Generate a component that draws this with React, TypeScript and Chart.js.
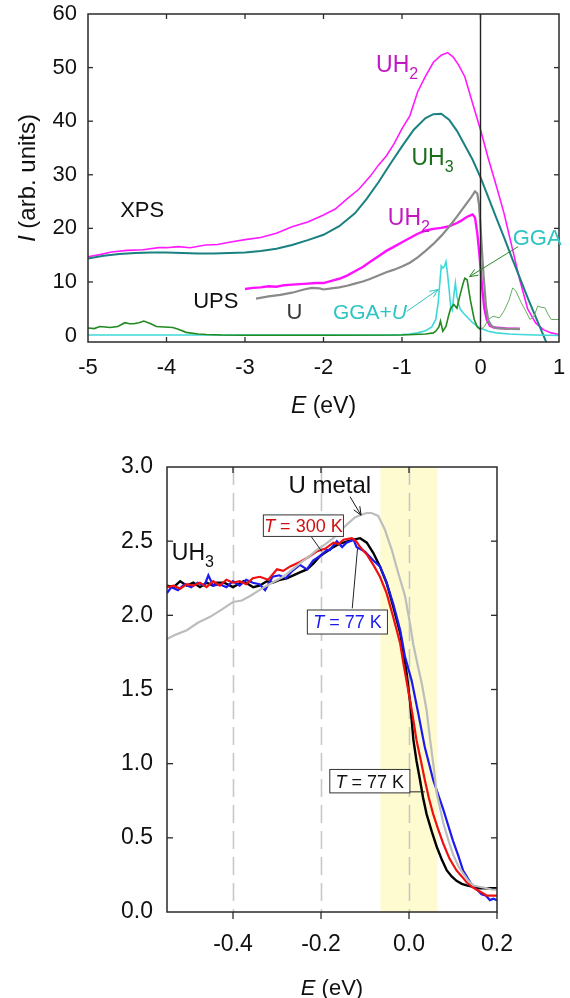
import React, { useEffect, useRef } from 'react';
import { Chart, registerables } from 'chart.js';

Chart.register(...registerables);

const FONT = '"Liberation Sans", Arial, Helvetica, sans-serif';

// ---------------- Top panel data (E in eV, I in arb. units) ----------------
const topXTicks = [-5, -4, -3, -2, -1, 0, 1];
const topYTicks = [0, 10, 20, 30, 40, 50, 60];

const uh2XpsE = [-5, -4.85, -4.7, -4.5, -4.3, -4.1, -4.0, -3.85, -3.7, -3.5, -3.35, -3.2, -3.0, -2.8, -2.6, -2.4, -2.2, -2.0, -1.85, -1.7, -1.55, -1.4, -1.3, -1.2, -1.1, -1.0, -0.9, -0.8, -0.7, -0.6, -0.5, -0.42, -0.35, -0.28, -0.2, -0.1, 0, 0.1, 0.2, 0.3, 0.4, 0.5, 0.6, 0.7, 0.8, 0.9, 1.0];
const uh2XpsI = [14.7, 15.1, 15.6, 15.9, 16.0, 16.4, 16.4, 16.6, 16.4, 16.9, 17.0, 17.4, 17.9, 18.3, 19.1, 20.3, 21.2, 22.5, 23.6, 25.5, 27.3, 29.8, 31.8, 33.5, 35.8, 38.6, 41.0, 45.5, 48.4, 51.0, 52.3, 52.8, 52.0, 50.5, 48.3, 43.3, 38.4, 33.0, 28.0, 22.8, 16.6, 10.4, 5.0, 2.4, 1.1, 0.5, 0.2];

const uh3XpsE = [-5, -4.8, -4.6, -4.4, -4.2, -4.0, -3.8, -3.6, -3.4, -3.2, -3.0, -2.8, -2.6, -2.4, -2.2, -2.0, -1.8, -1.6, -1.45, -1.3, -1.15, -1.0, -0.85, -0.7, -0.6, -0.5, -0.4, -0.3, -0.2, -0.1, 0, 0.1, 0.2, 0.3, 0.4, 0.5, 0.6, 0.7, 0.8, 0.9];
const uh3XpsI = [14.4, 14.9, 15.2, 15.4, 15.5, 15.5, 15.4, 15.3, 15.3, 15.4, 15.5, 15.8, 16.2, 16.9, 17.8, 18.8, 20.4, 22.8, 25.5, 28.6, 32.0, 35.3, 38.4, 40.6, 41.3, 41.4, 40.3, 38.2, 35.5, 32.8, 29.5, 25.8, 22.0, 18.3, 14.5, 10.8, 7.1, 3.6, 0.1, -3.5];

const uh2UpsE = [-3.0, -2.9, -2.8, -2.7, -2.6, -2.5, -2.4, -2.3, -2.2, -2.1, -2.0, -1.9, -1.8, -1.7, -1.6, -1.5, -1.4, -1.3, -1.2, -1.1, -1.0, -0.9, -0.8, -0.7, -0.6, -0.5, -0.4, -0.3, -0.25, -0.2, -0.15, -0.1, -0.07, -0.04, -0.01, 0.02, 0.05, 0.08, 0.12, 0.17, 0.25, 0.35, 0.5];
const uh2UpsI = [8.7, 8.9, 9.0, 9.2, 9.1, 9.4, 9.5, 9.6, 9.7, 9.8, 9.8, 10.2, 10.6, 11.2, 12.0, 12.8, 13.8, 14.8, 15.8, 16.6, 17.4, 18.2, 19.0, 19.6, 19.9, 20.1, 20.4, 21.0, 21.4, 21.9, 22.3, 22.6, 22.0, 19.0, 14.5, 9.0, 5.0, 3.0, 1.8, 1.5, 1.4, 1.3, 1.3];

const uUpsE = [-2.86, -2.7, -2.55, -2.4, -2.25, -2.15, -2.05, -2.0, -1.9, -1.8, -1.7, -1.6, -1.5, -1.4, -1.3, -1.2, -1.1, -1.0, -0.9, -0.8, -0.7, -0.6, -0.5, -0.4, -0.3, -0.2, -0.12, -0.07, -0.04, -0.02, 0.0, 0.02, 0.04, 0.07, 0.1, 0.14, 0.2, 0.3, 0.5];
const uUpsI = [6.9, 7.3, 7.6, 8.0, 8.6, 8.9, 8.8, 8.6, 8.8, 9.0, 9.3, 9.7, 10.1, 10.6, 11.2, 11.8, 12.3, 12.9, 13.6, 14.6, 15.8, 17.1, 18.6, 20.3, 22.2, 24.2, 25.8, 26.9, 26.5, 24.5, 20.5, 15.5, 11.0, 5.5, 2.8, 1.8, 1.4, 1.3, 1.2];

const ggaUE = [-5, -4, -3, -2, -1.2, -1.0, -0.9, -0.8, -0.7, -0.62, -0.57, -0.54, -0.52, -0.5, -0.48, -0.46, -0.44, -0.42, -0.4, -0.38, -0.36, -0.34, -0.32, -0.3, -0.28, -0.26, -0.22, -0.18, -0.1, -0.05, 0, 0.05, 0.1, 0.2, 0.37, 0.5, 0.7, 1.0];
const ggaUI = [0.1, 0.1, 0.1, 0.1, 0.1, 0.2, 0.3, 0.5, 0.9, 1.6, 3.0, 6.0, 9.5, 13.0, 12.6, 12.9, 13.8, 11.5, 8.6, 5.5, 4.8, 7.5, 9.8, 7.3, 6.0, 5.0, 4.2, 3.6, 2.4, 1.8, 1.4, 1.1, 0.8, 0.5, 0.3, 0.2, 0.1, 0.0];

const ggaOccE = [-5, -4.92, -4.85, -4.78, -4.72, -4.62, -4.53, -4.47, -4.42, -4.35, -4.29, -4.2, -4.13, -4.03, -3.92, -3.85, -3.75, -3.6, -3.49, -3.3, -3.0, -2.0, -1.0, -0.7, -0.6, -0.57, -0.53, -0.51, -0.48, -0.44, -0.41, -0.38, -0.34, -0.3, -0.26, -0.22, -0.2, -0.17, -0.13, -0.08, -0.04, 0];
const ggaOccI = [1.4, 1.3, 1.7, 1.6, 1.5, 1.7, 2.4, 2.2, 2.2, 2.4, 2.7, 2.2, 1.7, 1.6, 1.5, 1.2, 0.6, 0.3, 0.2, 0.1, 0.05, 0.05, 0.1, 0.3, 0.5, 0.8, 1.6, 2.7, 0.8, 1.7, 3.5, 5.1, 5.8, 5.1, 7.6, 9.8, 10.7, 10.4, 6.7, 3.0, 1.6, 1.1];

const ggaUnoccE = [0, 0.05, 0.1, 0.16, 0.24, 0.3, 0.36, 0.41, 0.45, 0.52, 0.58, 0.63, 0.68, 0.73, 0.77, 0.82, 0.86, 0.9, 0.95, 1.0];
const ggaUnoccI = [1.1, 1.7, 3.0, 3.6, 3.3, 4.6, 6.5, 8.9, 8.3, 6.1, 4.5, 3.0, 3.6, 5.5, 5.3, 5.2, 4.0, 3.0, 3.0, 3.0];

// ---------------- Bottom panel data ----------------
const botXTicks = [-0.4, -0.2, 0.0, 0.2];
const botYTicks = [0, 0.5, 1.0, 1.5, 2.0, 2.5, 3.0];
const dashedAt = [-0.4, -0.2, 0.0];
const bandFrom = -0.065;
const bandTo = 0.065;

const uMetalE = [-0.55, -0.53, -0.505, -0.48, -0.452, -0.425, -0.4, -0.38, -0.361, -0.34, -0.323, -0.305, -0.286, -0.265, -0.248, -0.23, -0.21, -0.19, -0.172, -0.155, -0.142, -0.123, -0.107, -0.096, -0.085, -0.07, -0.055, -0.039, -0.024, -0.009, 0.002, 0.01, 0.02, 0.029, 0.04, 0.048, 0.056, 0.063, 0.078, 0.09, 0.1, 0.112, 0.123, 0.135, 0.146, 0.16, 0.177, 0.19, 0.2];
const uMetalI = [1.84, 1.87, 1.9, 1.95, 1.99, 2.04, 2.09, 2.1, 2.13, 2.17, 2.2, 2.23, 2.26, 2.31, 2.35, 2.39, 2.44, 2.48, 2.52, 2.57, 2.61, 2.66, 2.68, 2.69, 2.69, 2.67, 2.58, 2.44, 2.28, 2.13, 1.95, 1.8, 1.66, 1.54, 1.36, 1.16, 0.98, 0.8, 0.6, 0.48, 0.39, 0.31, 0.26, 0.21, 0.18, 0.17, 0.16, 0.15, 0.15];

const t300E = [-0.55, -0.535, -0.52, -0.505, -0.49, -0.475, -0.46, -0.445, -0.43, -0.415, -0.4, -0.385, -0.37, -0.355, -0.339, -0.32, -0.3, -0.286, -0.27, -0.248, -0.23, -0.21, -0.19, -0.172, -0.16, -0.149, -0.13, -0.12, -0.111, -0.096, -0.081, -0.066, -0.051, -0.036, -0.02, -0.013, -0.002, 0.008, 0.017, 0.027, 0.036, 0.045, 0.055, 0.066, 0.078, 0.092, 0.108, 0.12, 0.131, 0.143, 0.154, 0.166, 0.177, 0.19, 0.2];
const t300I = [2.19, 2.2, 2.18, 2.21, 2.2, 2.22, 2.19, 2.23, 2.2, 2.24, 2.22, 2.23, 2.21, 2.25, 2.26, 2.24, 2.31, 2.3, 2.33, 2.36, 2.39, 2.43, 2.45, 2.49, 2.48, 2.51, 2.52, 2.5, 2.46, 2.41, 2.34, 2.26, 2.15, 1.99, 1.81, 1.68, 1.5, 1.33, 1.16, 1.02, 0.89, 0.77, 0.66, 0.56, 0.46, 0.36, 0.28, 0.24, 0.2, 0.17, 0.15, 0.13, 0.11, 0.11, 0.11];

const t77E = [-0.55, -0.54, -0.525, -0.51, -0.495, -0.48, -0.465, -0.456, -0.445, -0.43, -0.415, -0.4, -0.385, -0.37, -0.355, -0.34, -0.327, -0.31, -0.295, -0.28, -0.265, -0.248, -0.232, -0.218, -0.202, -0.187, -0.18, -0.164, -0.152, -0.142, -0.126, -0.119, -0.1, -0.081, -0.066, -0.051, -0.036, -0.02, -0.009, 0.006, 0.021, 0.036, 0.055, 0.078, 0.1, 0.112, 0.123, 0.135, 0.146, 0.155, 0.165, 0.175, 0.184, 0.192, 0.2];
const t77I = [2.15, 2.19, 2.17, 2.21, 2.19, 2.22, 2.2, 2.27, 2.2, 2.21, 2.19, 2.23, 2.2, 2.24, 2.22, 2.21, 2.17, 2.26, 2.27, 2.25, 2.3, 2.34, 2.31, 2.37, 2.4, 2.44, 2.44, 2.5, 2.46, 2.49, 2.51, 2.46, 2.43, 2.37, 2.33, 2.22, 2.08, 1.9, 1.72, 1.56, 1.34, 1.11, 0.89, 0.69, 0.48, 0.38, 0.28, 0.22, 0.17, 0.15, 0.12, 0.11, 0.08, 0.09, 0.08];

const t77bE = [-0.55, -0.535, -0.52, -0.505, -0.49, -0.475, -0.46, -0.445, -0.437, -0.42, -0.4, -0.388, -0.376, -0.365, -0.354, -0.34, -0.323, -0.31, -0.293, -0.278, -0.263, -0.248, -0.232, -0.217, -0.202, -0.187, -0.172, -0.16, -0.149, -0.138, -0.126, -0.111, -0.096, -0.081, -0.066, -0.051, -0.036, -0.02, -0.009, -0.005, 0.003, 0.01, 0.017, 0.025, 0.032, 0.04, 0.052, 0.063, 0.075, 0.086, 0.097, 0.108, 0.12, 0.131, 0.146, 0.161, 0.18, 0.2];
const t77bI = [2.2, 2.19, 2.23, 2.2, 2.22, 2.19, 2.22, 2.2, 2.22, 2.22, 2.19, 2.21, 2.23, 2.21, 2.19, 2.2, 2.23, 2.22, 2.24, 2.25, 2.27, 2.29, 2.31, 2.35, 2.4, 2.43, 2.46, 2.48, 2.49, 2.5, 2.51, 2.52, 2.49, 2.42, 2.33, 2.22, 2.06, 1.88, 1.68, 1.6, 1.4, 1.16, 1.02, 0.89, 0.77, 0.66, 0.54, 0.44, 0.35, 0.28, 0.24, 0.21, 0.19, 0.18, 0.17, 0.16, 0.16, 0.16];

// ---------------- helpers ----------------
type Part = { t: string; italic?: boolean; sub?: boolean };

const pts = (xs: number[], ys: number[]) => xs.map((x, i) => ({ x, y: ys[i] }));

const line = (xs: number[], ys: number[], color: string, width: number) => ({
  data: pts(xs, ys),
  borderColor: color,
  backgroundColor: color,
  borderWidth: width,
  pointRadius: 0,
  tension: 0,
  fill: false,
});

function richWidth(ctx: CanvasRenderingContext2D, parts: Part[], size: number) {
  let w = 0;
  parts.forEach((p) => {
    ctx.font = `${p.italic ? 'italic ' : ''}${p.sub ? Math.round(size * 0.7) : size}px ${FONT}`;
    w += ctx.measureText(p.t).width;
  });
  return w;
}

function drawRich(ctx: CanvasRenderingContext2D, x: number, y: number, parts: Part[], size: number, color: string, align: 'left' | 'center' = 'left') {
  ctx.save();
  ctx.fillStyle = color;
  ctx.textBaseline = 'alphabetic';
  ctx.textAlign = 'left';
  let cx = align === 'center' ? x - richWidth(ctx, parts, size) / 2 : x;
  parts.forEach((p) => {
    const s = p.sub ? Math.round(size * 0.7) : size;
    ctx.font = `${p.italic ? 'italic ' : ''}${s}px ${FONT}`;
    ctx.fillText(p.t, cx, p.sub ? y + size * 0.3 : y);
    cx += ctx.measureText(p.t).width;
  });
  ctx.restore();
}

type TickSpec = { side: 'left' | 'right' | 'top' | 'bottom'; values: number[]; len: number; out?: boolean };
type TextAnn = { x: number; y: number; parts: Part[]; size: number; color: string };
type ArrowAnn = { x1: number; y1: number; x2: number; y2: number; color: string; head: boolean };
type BoxAnn = { x0: number; x1: number; y0: number; y1: number; parts: Part[]; size: number; color: string };
type Deco = {
  ticks: TickSpec[];
  solidV?: number[];
  dashedV?: number[];
  band?: [number, number];
  texts: TextAnn[];
  arrows: ArrowAnn[];
  boxes?: BoxAnn[];
  xTitle: { dy: number; size: number };
  yTitle?: { x: number; size: number };
};

function decoPlugin(d: Deco) {
  return {
    id: 'deco',
    beforeDatasetsDraw(chart: any) {
      const { ctx, chartArea: a, scales } = chart;
      const xs = scales.x;
      ctx.save();
      if (d.band) {
        const x0 = xs.getPixelForValue(d.band[0]);
        const x1 = xs.getPixelForValue(d.band[1]);
        ctx.fillStyle = '#fdfbcf';
        ctx.fillRect(x0, a.top, x1 - x0, a.bottom - a.top);
      }
      (d.dashedV || []).forEach((v) => {
        const px = Math.round(xs.getPixelForValue(v)) + 0.5;
        ctx.strokeStyle = '#c8c8c8';
        ctx.lineWidth = 1.6;
        ctx.setLineDash([18, 8]);
        ctx.beginPath();
        ctx.moveTo(px, a.top);
        ctx.lineTo(px, a.bottom);
        ctx.stroke();
      });
      ctx.restore();
    },
    afterDatasetsDraw(chart: any) {
      const { ctx, chartArea: a, scales } = chart;
      const xs = scales.x;
      const ys = scales.y;
      const X = (v: number) => xs.getPixelForValue(v);
      const Y = (v: number) => ys.getPixelForValue(v);
      ctx.save();
      (d.solidV || []).forEach((v) => {
        ctx.strokeStyle = '#222';
        ctx.lineWidth = 1.4;
        ctx.beginPath();
        ctx.moveTo(X(v), a.top);
        ctx.lineTo(X(v), a.bottom);
        ctx.stroke();
      });
      // frame
      ctx.strokeStyle = '#2a2a2a';
      ctx.lineWidth = 1.5;
      ctx.strokeRect(a.left, a.top, a.right - a.left, a.bottom - a.top);
      // ticks
      ctx.lineWidth = 1.3;
      d.ticks.forEach((t) => {
        t.values.forEach((v) => {
          ctx.beginPath();
          if (t.side === 'bottom') {
            const p = X(v);
            ctx.moveTo(p, a.bottom);
            ctx.lineTo(p, t.out ? a.bottom + t.len : a.bottom - t.len);
          } else if (t.side === 'top') {
            const p = X(v);
            ctx.moveTo(p, a.top);
            ctx.lineTo(p, a.top + t.len);
          } else if (t.side === 'left') {
            const p = Y(v);
            ctx.moveTo(a.left, p);
            ctx.lineTo(a.left + t.len, p);
          } else {
            const p = Y(v);
            ctx.moveTo(a.right, p);
            ctx.lineTo(a.right - t.len, p);
          }
          ctx.stroke();
        });
      });
      // arrows / leader lines
      d.arrows.forEach((ar) => {
        const x1 = X(ar.x1), y1 = Y(ar.y1), x2 = X(ar.x2), y2 = Y(ar.y2);
        ctx.strokeStyle = ar.color;
        ctx.lineWidth = 1;
        ctx.beginPath();
        ctx.moveTo(x1, y1);
        ctx.lineTo(x2, y2);
        ctx.stroke();
        if (ar.head) {
          const ang = Math.atan2(y2 - y1, x2 - x1);
          const L = 9;
          ctx.beginPath();
          ctx.moveTo(x2 - L * Math.cos(ang - 0.4), y2 - L * Math.sin(ang - 0.4));
          ctx.lineTo(x2, y2);
          ctx.lineTo(x2 - L * Math.cos(ang + 0.4), y2 - L * Math.sin(ang + 0.4));
          ctx.stroke();
        }
      });
      // boxes
      (d.boxes || []).forEach((b) => {
        const x0 = X(b.x0), x1 = X(b.x1), y0 = Y(b.y0), y1 = Y(b.y1);
        ctx.fillStyle = '#fff';
        ctx.fillRect(x0, y0, x1 - x0, y1 - y0);
        ctx.strokeStyle = '#333';
        ctx.lineWidth = 1;
        ctx.strokeRect(x0, y0, x1 - x0, y1 - y0);
        drawRich(ctx, (x0 + x1) / 2, (y0 + y1) / 2 + b.size * 0.36, b.parts, b.size, b.color, 'center');
      });
      // texts
      d.texts.forEach((t) => drawRich(ctx, X(t.x), Y(t.y), t.parts, t.size, t.color));
      // axis titles
      drawRich(ctx, (a.left + a.right) / 2, a.bottom + d.xTitle.dy, [{ t: 'E', italic: true }, { t: ' (eV)' }], d.xTitle.size, '#111', 'center');
      if (d.yTitle) {
        ctx.save();
        ctx.translate(d.yTitle.x, (a.top + a.bottom) / 2);
        ctx.rotate(-Math.PI / 2);
        drawRich(ctx, 0, 0, [{ t: 'I', italic: true }, { t: ' (arb. units)' }], d.yTitle.size, '#111', 'center');
        ctx.restore();
      }
      ctx.restore();
    },
  };
}

function makeScales(opts: {
  xmin: number; xmax: number; ymin: number; ymax: number;
  xTicks: number[]; yTicks: number[]; xFmt: (v: number) => string; yFmt: (v: number) => string;
  size: number; yWidth: number; xHeight: number; xPad: number; yPad: number;
}) {
  const font = { family: FONT, size: opts.size };
  return {
    x: {
      type: 'linear',
      min: opts.xmin,
      max: opts.xmax,
      grid: { display: false, drawTicks: false },
      border: { display: false },
      afterBuildTicks: (s: any) => { s.ticks = opts.xTicks.map((v) => ({ value: v })); },
      afterFit: (s: any) => { s.height = opts.xHeight; s.paddingLeft = 0; s.paddingRight = 0; },
      ticks: { font, color: '#111', padding: opts.xPad, maxRotation: 0, autoSkip: false, callback: (v: any) => opts.xFmt(Number(v)) },
    },
    y: {
      type: 'linear',
      min: opts.ymin,
      max: opts.ymax,
      grid: { display: false, drawTicks: false },
      border: { display: false },
      afterBuildTicks: (s: any) => { s.ticks = opts.yTicks.map((v) => ({ value: v })); },
      afterFit: (s: any) => { s.width = opts.yWidth; s.paddingTop = 0; s.paddingBottom = 0; },
      ticks: { font, color: '#111', padding: opts.yPad, autoSkip: false, callback: (v: any) => opts.yFmt(Number(v)) },
    },
  };
}

function TopPanel() {
  const ref = useRef<HTMLCanvasElement>(null);
  useEffect(() => {
    if (!ref.current) return;
    const deco: Deco = {
      ticks: [
        { side: 'bottom', values: [-4, -3, -2, -1, 0], len: 5 },
        { side: 'top', values: [-4, -3, -2, -1, 0], len: 5 },
        { side: 'left', values: [10, 20, 30, 40, 50], len: 5 },
        { side: 'right', values: [10, 20, 30, 40, 50], len: 5 },
      ],
      solidV: [0],
      texts: [
        { x: -1.33, y: 49.2, parts: [{ t: 'UH' }, { t: '2', sub: true }], size: 23, color: '#c218c2' },
        { x: -0.88, y: 31.8, parts: [{ t: 'UH' }, { t: '3', sub: true }], size: 23, color: '#1b6e1b' },
        { x: -4.59, y: 22.2, parts: [{ t: 'XPS' }], size: 22, color: '#111' },
        { x: -1.18, y: 20.6, parts: [{ t: 'UH' }, { t: '2', sub: true }], size: 23, color: '#c218c2' },
        { x: -3.66, y: 5.2, parts: [{ t: 'UPS' }], size: 22, color: '#111' },
        { x: -2.47, y: 3.0, parts: [{ t: 'U' }], size: 22, color: '#3a3a3a' },
        { x: -1.88, y: 3.0, parts: [{ t: 'GGA+' }, { t: 'U', italic: true }], size: 21, color: '#2fc4c4' },
        { x: 0.41, y: 16.9, parts: [{ t: 'GGA' }], size: 22, color: '#2fc4c4' },
      ],
      arrows: [
        { x1: -0.94, y1: 4.5, x2: -0.54, y2: 8.6, color: '#2fc4c4', head: true },
        { x1: 0.48, y1: 16.6, x2: -0.14, y2: 11.0, color: '#2a8a2a', head: true },
      ],
      xTitle: { dy: 71, size: 23 },
      yTitle: { x: 35, size: 24 },
    };
    const chart = new Chart(ref.current, {
      type: 'line',
      data: {
        datasets: [
          line(ggaOccE, ggaOccI, '#218a21', 1.6),
          line(ggaUnoccE, ggaUnoccI, '#62b062', 1),
          line(ggaUE, ggaUI, '#3fd8d8', 1.6),
          line(uUpsE, uUpsI, '#8a8a8a', 2.2),
          line(uh2UpsE, uh2UpsI, '#ff10ff', 2.4),
          line(uh3XpsE, uh3XpsI, '#1a8080', 2),
          line(uh2XpsE, uh2XpsI, '#ff1aff', 1.6),
        ] as any,
      },
      options: {
        animation: false,
        responsive: false,
        events: [],
        layout: { padding: { top: 14, right: 11, left: 0, bottom: 0 } },
        plugins: { legend: { display: false }, tooltip: { enabled: false } },
        scales: makeScales({
          xmin: -5, xmax: 1, ymin: -1.2, ymax: 60,
          xTicks: topXTicks, yTicks: topYTicks,
          xFmt: (v) => String(v), yFmt: (v) => String(v),
          size: 22, yWidth: 88, xHeight: 83, xPad: 13, yPad: 11,
        }) as any,
      },
      plugins: [decoPlugin(deco)],
    });
    return () => chart.destroy();
  }, []);
  return <canvas ref={ref} width={570} height={425} style={{ position: 'absolute', left: 0, top: 0, width: 570, height: 425 }} />;
}

function BottomPanel() {
  const ref = useRef<HTMLCanvasElement>(null);
  useEffect(() => {
    if (!ref.current) return;
    const deco: Deco = {
      ticks: [
        { side: 'bottom', values: botXTicks, len: 7, out: true },
        { side: 'top', values: [-0.4, -0.2, 0.0], len: 6 },
        { side: 'left', values: [0.5, 1.0, 1.5, 2.0, 2.5], len: 6 },
        { side: 'right', values: [0.5, 1.0, 1.5, 2.0, 2.5], len: 6 },
      ],
      dashedV: dashedAt,
      band: [bandFrom, bandTo],
      texts: [
        { x: -0.274, y: 2.823, parts: [{ t: 'U metal' }], size: 24, color: '#111' },
        { x: -0.539, y: 2.37, parts: [{ t: 'UH' }, { t: '3', sub: true }], size: 23, color: '#111' },
      ],
      arrows: [
        { x1: -0.134, y1: 2.80, x2: -0.109, y2: 2.675, color: '#111', head: true },
        { x1: -0.222, y1: 2.53, x2: -0.198, y2: 2.43, color: '#222', head: false },
        { x1: -0.129, y1: 2.047, x2: -0.117, y2: 2.45, color: '#222', head: false },
        { x1: -0.02, y1: 0.81, x2: 0.036, y2: 0.81, color: '#222', head: false },
      ],
      boxes: [
        { x0: -0.331, x1: -0.149, y0: 2.677, y1: 2.532, parts: [{ t: 'T', italic: true }, { t: ' = 300 K' }], size: 18, color: '#d01010' },
        { x0: -0.231, x1: -0.049, y0: 2.036, y1: 1.874, parts: [{ t: 'T', italic: true }, { t: ' = 77 K' }], size: 18, color: '#1a1aee' },
        { x0: -0.18, x1: 0.002, y0: 0.961, y1: 0.803, parts: [{ t: 'T', italic: true }, { t: ' = 77 K' }], size: 18, color: '#111' },
      ],
      xTitle: { dy: 83, size: 22 },
    };
    const chart = new Chart(ref.current, {
      type: 'line',
      data: {
        datasets: [
          line(uMetalE, uMetalI, '#bdbdbd', 2.2),
          line(t300E, t300I, '#f01010', 2.2),
          line(t77E, t77I, '#1a1af0', 2.2),
          line(t77bE, t77bI, '#000000', 2.4),
        ] as any,
      },
      options: {
        animation: false,
        responsive: false,
        events: [],
        layout: { padding: { top: 27, right: 73, left: 0, bottom: 0 } },
        plugins: { legend: { display: false }, tooltip: { enabled: false } },
        scales: makeScales({
          xmin: -0.55, xmax: 0.2, ymin: 0, ymax: 3,
          xTicks: botXTicks, yTicks: botYTicks,
          xFmt: (v) => v.toFixed(1), yFmt: (v) => v.toFixed(1),
          size: 23, yWidth: 167, xHeight: 86, xPad: 19, yPad: 14,
        }) as any,
      },
      plugins: [decoPlugin(deco)],
    });
    return () => chart.destroy();
  }, []);
  return <canvas ref={ref} width={570} height={558} style={{ position: 'absolute', left: 0, top: 440, width: 570, height: 558 }} />;
}

export default function App() {
  return (
    <div style={{ position: 'absolute', left: 0, top: 0, width: 570, height: 998, background: '#fff', overflow: 'hidden' }}>
      <TopPanel />
      <BottomPanel />
    </div>
  );
}
